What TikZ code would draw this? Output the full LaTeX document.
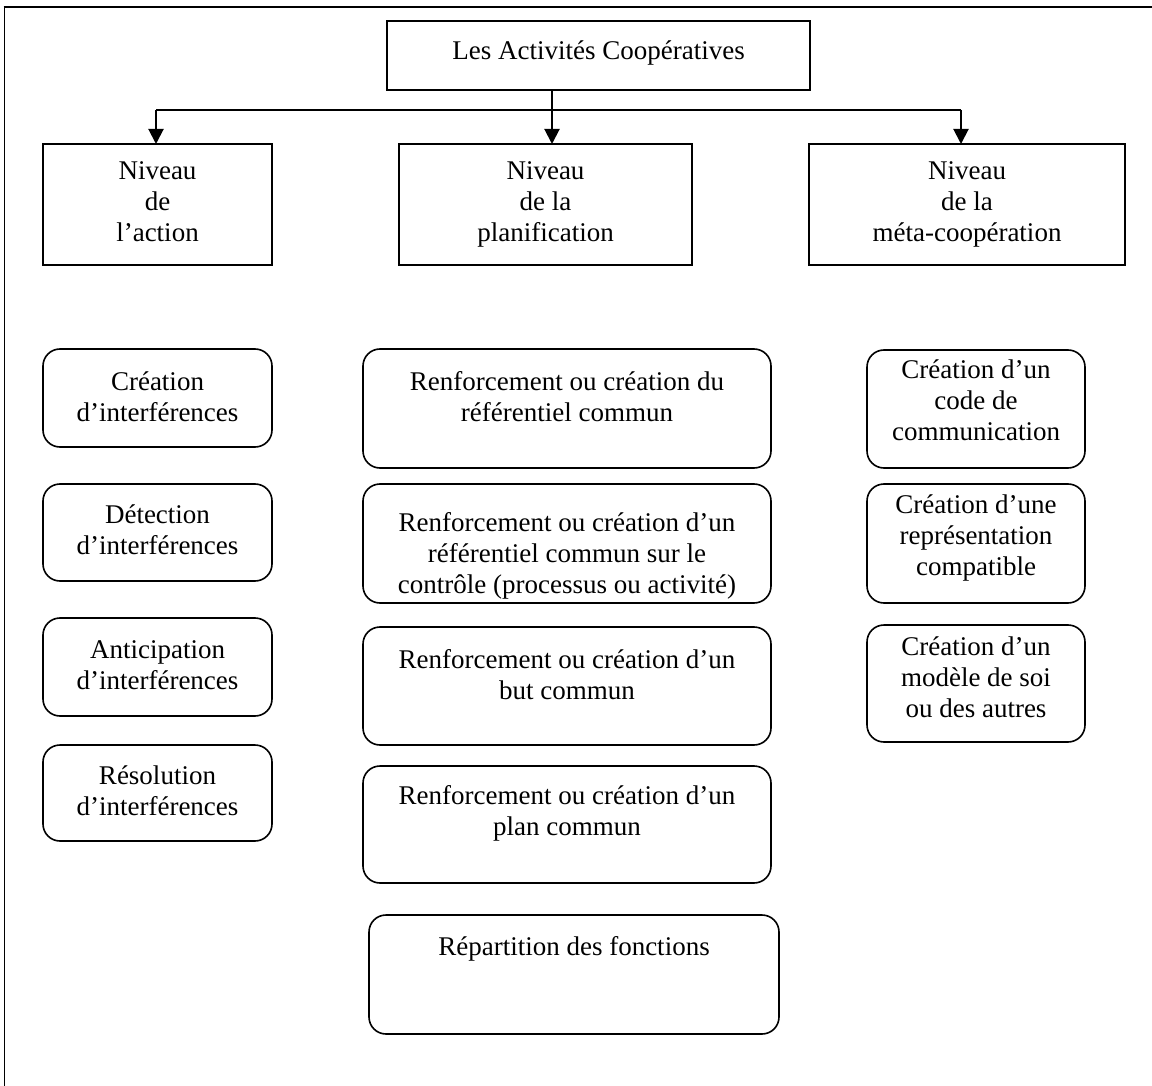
\documentclass[tikz,border=0pt]{standalone}
\usepackage{fontspec}
\setmainfont{Liberation Serif}
\usetikzlibrary{arrows.meta}
\begin{document}
\begin{tikzpicture}[x=1pt,y=1pt,
  sq/.style={draw, line width=1.6pt, inner sep=0pt, outer sep=0pt},
  rbox/.style={draw, line width=1.6pt, rounded corners=17pt, inner sep=0pt, outer sep=0pt},
  txt/.style={anchor=north, align=center, inner sep=0pt, font=\fontsize{27}{31}\selectfont},
  arr/.style={line width=2pt, -{Triangle[width=15pt,length=15pt]}},
  conn/.style={line width=2pt},
  frame/.style={line width=1pt}
]
\useasboundingbox (0,0) rectangle (1152,-1086);
% outer frame (partially visible)
\draw[frame] (4,-1086) -- (4,-7);
\draw[line width=2pt] (3.5,-7) -- (1152,-7);

% top box
\node[sq, minimum width=423pt, minimum height=69pt] (top) at (598.5,-55.5) {};
\node[txt] (topt) at (598.5,-37.3) {\strut Les Activités Coopératives};

% level boxes
\node[sq, minimum width=229pt, minimum height=121pt] (n1) at (157.5,-204.5) {};
\node[sq, minimum width=293pt, minimum height=121pt] (n2) at (545.5,-204.5) {};
\node[sq, minimum width=316pt, minimum height=121pt] (n3) at (967,-204.5) {};
\node[txt] (n1t) at (157.5,-157.3) {\strut Niveau\\de\\l’action};
\node[txt] (n2t) at (545.5,-157.3) {\strut Niveau\\de la\\planification};
\node[txt] (n3t) at (967,-157.3) {\strut Niveau\\de la\\méta-coopération};

% connectors
\coordinate (jl) at (156,-110);
\coordinate (jc) at (552,-110);
\coordinate (jr) at (961,-110);
\draw[conn] (jl) -- (jr);
\draw[arr] (top.south -| jc) -- (n2.north -| jc);
\draw[arr] (jl) -- (n1.north -| jl);
\draw[arr] (jr) -- (n3.north -| jr);

% left column
\node[rbox, minimum width=229pt, minimum height=98pt] (a1) at (157.5,-398) {};
\node[rbox, minimum width=229pt, minimum height=97pt] (a2) at (157.5,-532.5) {};
\node[rbox, minimum width=229pt, minimum height=98pt] (a3) at (157.5,-667) {};
\node[rbox, minimum width=229pt, minimum height=96pt] (a4) at (157.5,-793) {};
\node[txt] (a1t) at (157.5,-368.3) {\strut Création\\d’interférences};
\node[txt] (a2t) at (157.5,-501.3) {\strut Détection\\d’interférences};
\node[txt] (a3t) at (157.5,-636.3) {\strut Anticipation\\d’interférences};
\node[txt] (a4t) at (157.5,-762.3) {\strut Résolution\\d’interférences};

% middle column
\node[rbox, minimum width=408pt, minimum height=119pt] (p1) at (567,-408.5) {};
\node[rbox, minimum width=408pt, minimum height=119pt] (p2) at (567,-543.5) {};
\node[rbox, minimum width=408pt, minimum height=118pt] (p3) at (567,-686) {};
\node[rbox, minimum width=408pt, minimum height=117pt] (p4) at (567,-824.5) {};
\node[rbox, minimum width=410pt, minimum height=119pt] (p5) at (574,-974.5) {};
\node[txt] (p1t) at (567,-368.3) {\strut Renforcement ou création du\\référentiel commun};
\node[txt] (p2t) at (567,-509.3) {\strut Renforcement ou création d’un\\référentiel commun sur le\\contrôle (processus ou activité)};
\node[txt] (p3t) at (567,-646.3) {\strut Renforcement ou création d’un\\but commun};
\node[txt] (p4t) at (567,-782.3) {\strut Renforcement ou création d’un\\plan commun};
\node[txt] (p5t) at (574,-933.3) {\strut Répartition des fonctions};

% right column
\node[rbox, minimum width=218pt, minimum height=118pt] (m1) at (976,-409) {};
\node[rbox, minimum width=218pt, minimum height=119pt] (m2) at (976,-543.5) {};
\node[rbox, minimum width=218pt, minimum height=117pt] (m3) at (976,-683.5) {};
\node[txt] (m1t) at (976,-356.3) {\strut Création d’un\\code de\\communication};
\node[txt] (m2t) at (976,-491.3) {\strut Création d’une\\représentation\\compatible};
\node[txt] (m3t) at (976,-633.3) {\strut Création d’un\\modèle de soi\\ou des autres};
\end{tikzpicture}
\end{document}
